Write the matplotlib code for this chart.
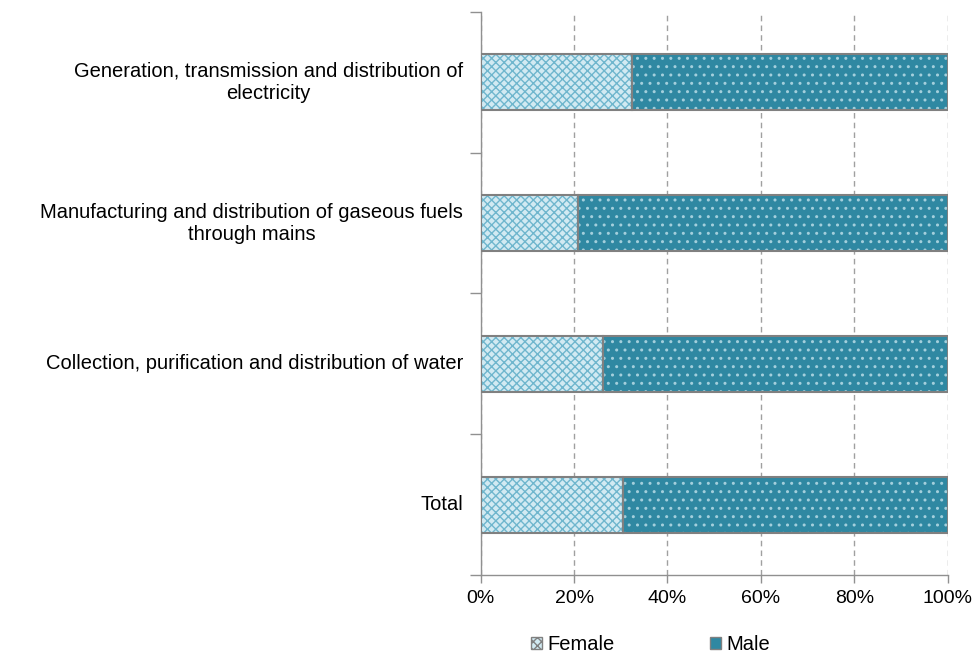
import numpy as np
import matplotlib.pyplot as plt
from matplotlib.patches import Patch
from matplotlib.ticker import PercentFormatter

plt.rcParams['font.family'] = ['Liberation Sans', 'DejaVu Sans']
plt.rcParams['hatch.linewidth'] = 1.0

categories = [
    'Generation, transmission and distribution of\nelectricity',
    'Manufacturing and distribution of gaseous fuels\nthrough mains',
    'Collection, purification and distribution of water',
    'Total',
]
female = [32.3, 20.8, 26.1, 30.4]
male = [100 - f for f in female]

fig = plt.figure(figsize=(9.77, 6.55), dpi=100)
ax = fig.add_axes([0.492, 0.122, 0.478, 0.860])

y = np.arange(len(categories))
h = 0.4

# female: pale fill with a fine blue cross texture
ax.barh(y, female, height=h, color='#d2eaf2', linewidth=0, zorder=3)
ax.barh(y, female, height=h, color='none', edgecolor='#6fb6cd',
        linewidth=0, hatch='xxxx', zorder=4)
# male: teal fill with white dot texture
ax.barh(y, male, left=female, height=h, color='#2f88a2', linewidth=0, zorder=3)
ax.barh(y, male, left=female, height=h, color='none', edgecolor='#a3cfdc',
        linewidth=0, hatch='..', zorder=4)
# outlines
ax.barh(y, female, height=h, color='none', edgecolor='#808080',
        linewidth=1.5, zorder=5)
ax.barh(y, male, left=female, height=h, color='none', edgecolor='#808080',
        linewidth=1.5, zorder=5)

ax.set_xlim(0, 100)
ax.set_ylim(len(categories) - 0.5, -0.5)
ax.xaxis.set_major_formatter(PercentFormatter(decimals=0))
ax.set_xticks(np.arange(0, 101, 20))
ax.grid(axis='x', color='#a0a0a0', linestyle=(0, (4, 3)), linewidth=1, zorder=0)

# category labels: right-aligned block, lines centred within it
ax.set_yticks(y)
ax.set_yticklabels([])
for yi, cat in zip(y, categories):
    ax.text(-0.038, yi, cat, transform=ax.get_yaxis_transform(),
            ha='right', va='center', multialignment='center',
            fontsize=14.5, linespacing=1.2)
ax.set_yticks(np.arange(-0.5, len(categories), 1), minor=True)
ax.tick_params(axis='y', which='major', length=0)
ax.tick_params(axis='y', which='minor', length=8, color='#909090', width=1)
ax.tick_params(axis='x', length=6, color='#909090', width=1, labelsize=14, pad=5)

for s in ['top', 'right']:
    ax.spines[s].set_visible(False)
for s in ['left', 'bottom']:
    ax.spines[s].set_color('#909090')
    ax.spines[s].set_linewidth(1)

handles = [
    Patch(facecolor='#d2eaf2', edgecolor='#808080', hatch='xxxx', label='Female'),
    Patch(facecolor='#2f88a2', edgecolor='#808080', label='Male'),
]
fig.legend(handles=handles, loc='center', bbox_to_anchor=(0.666, 0.016), ncol=2,
           frameon=False, fontsize=14.5, handlelength=0.55, handleheight=0.55,
           handletextpad=0.25, columnspacing=4.75, borderpad=0)

fig.savefig('out.png', dpi=100)
